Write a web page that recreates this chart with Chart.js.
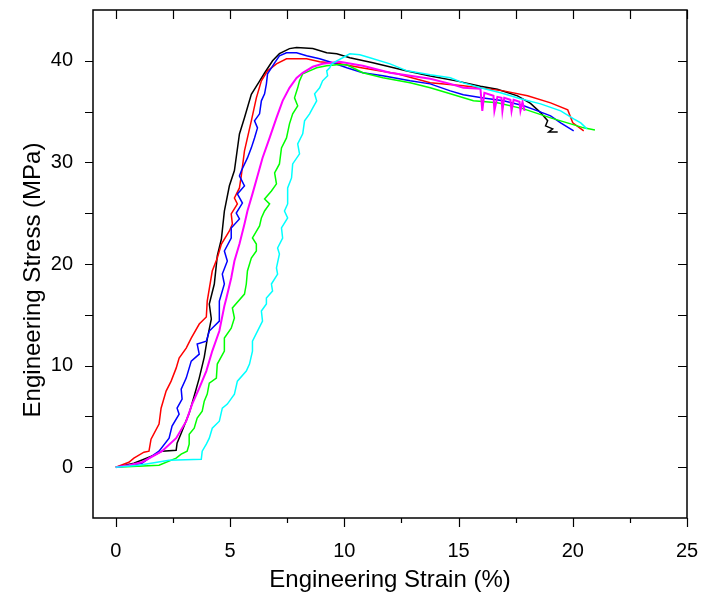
<!DOCTYPE html>
<html>
<head>
<meta charset="utf-8">
<script src="https://cdn.jsdelivr.net/npm/chart.js@4/dist/chart.umd.min.js"></script>
<style>
  body { margin: 0; background: #fff; }
  canvas { display: block; }
</style>
</head>
<body>
<canvas id="canvas" width="709" height="599"></canvas>
<script>
// axis ticks
var xTickValues = [0, 5, 10, 15, 20, 25];
var xMinorValues = [0, 2.5, 5, 7.5, 10, 12.5, 15, 17.5, 20, 22.5, 25];
var yTickValues = [0, 10, 20, 30, 40];
var yMinorValues = [0, 5, 10, 15, 20, 25, 30, 35, 40];
var yTitle = 'Engineering Stress (MPa)';

// strain (%) and stress (MPa) per specimen
var blackStrain = [0, 0.79, 1.67, 2.02, 2.64, 2.68, 2.86, 3.21, 3.43, 3.65, 3.87, 4.0, 4.18, 4.09, 4.31, 4.44, 4.62, 4.75, 4.97, 5.19, 5.41, 5.63, 5.93, 6.29, 6.51, 6.86, 7.16, 7.6, 7.91, 8.62, 9.23, 9.67, 10.24, 11.25, 12.75, 13.76, 14.95, 15.96, 16.7, 17.58, 18.15, 18.59, 18.9, 18.81, 19.12, 18.95, 19.34];
var blackStress = [0, 0.39, 1.18, 1.58, 1.67, 2.36, 3.35, 5.32, 7.0, 8.77, 10.84, 12.6, 14.6, 16.06, 18.03, 20.79, 22.46, 25.2, 27.7, 29.2, 32.8, 34.4, 36.7, 38.0, 38.8, 40.0, 40.7, 41.2, 41.3, 41.2, 40.8, 40.7, 40.3, 39.8, 39.0, 38.5, 38.0, 37.5, 37.2, 36.55, 35.8, 34.9, 34.1, 33.6, 33.3, 33.0, 33.0];

var redStrain = [0, 0.57, 0.79, 1.23, 1.45, 1.54, 1.89, 1.98, 2.2, 2.42, 2.64, 2.77, 3.08, 3.3, 3.65, 3.96, 4.0, 4.22, 4.44, 4.62, 4.97, 5.1, 5.05, 5.32, 5.19, 5.41, 5.49, 5.63, 5.93, 6.15, 6.37, 6.64, 7.03, 7.47, 8.35, 8.92, 9.8, 10.81, 12.31, 13.76, 15.21, 16.97, 18.02, 19.03, 19.78, 20.0, 20.48];
var redStress = [0, 0.49, 0.89, 1.48, 1.58, 2.76, 4.24, 5.81, 7.49, 8.47, 9.75, 10.74, 11.72, 12.71, 14.09, 14.78, 16.35, 19.31, 20.59, 21.97, 23.25, 23.94, 24.93, 25.91, 26.5, 27.49, 28.67, 31.13, 34.09, 36.35, 38.03, 39.01, 39.7, 40.2, 40.2, 39.9, 39.7, 39.3, 38.72, 37.83, 37.54, 37.04, 36.55, 35.86, 35.17, 33.9, 33.1];

var blueStrain = [0, 1.14, 1.89, 2.33, 2.46, 2.77, 2.68, 2.9, 2.86, 3.08, 3.3, 3.65, 3.56, 3.96, 4.09, 4.53, 4.53, 4.75, 4.66, 4.88, 4.75, 5.05, 5.05, 5.41, 5.27, 5.54, 5.32, 5.63, 5.41, 5.49, 5.76, 5.93, 6.07, 6.2, 6.07, 6.29, 6.37, 6.51, 6.59, 6.64, 6.81, 6.95, 7.16, 7.47, 7.91, 8.35, 8.92, 9.49, 10.11, 10.81, 11.69, 12.88, 13.76, 14.64, 15.21, 16.09, 16.97, 17.85, 18.46, 19.03, 19.47, 20.04];
var blueStress = [0, 0.39, 1.58, 2.86, 4.04, 5.22, 5.81, 6.7, 7.68, 8.77, 10.44, 11.13, 12.12, 12.41, 13.4, 14.38, 16.35, 18.03, 19.01, 20.3, 21.28, 22.56, 23.55, 24.43, 25.02, 26.0, 26.9, 27.68, 28.67, 29.16, 30.44, 31.43, 32.41, 33.4, 34.09, 34.78, 36.06, 36.75, 37.73, 38.72, 39.31, 39.8, 40.49, 40.79, 40.79, 40.49, 40.2, 39.8, 39.31, 38.82, 38.52, 38.03, 37.73, 37.04, 36.65, 36.35, 36.06, 35.57, 35.07, 34.58, 33.89, 33.1];

var magentaStrain = [0, 0.57, 1.14, 2.02, 2.64, 3.08, 3.34, 3.65, 3.96, 4.22, 4.53, 4.75, 4.84, 5.05, 5.19, 5.41, 5.63, 5.76, 5.98, 6.2, 6.42, 6.73, 7.03, 7.3, 7.6, 7.91, 8.18, 8.62, 9.05, 9.8, 10.55, 10.81, 12.0, 12.88, 13.76, 14.64, 15.21, 15.96, 16.04, 16.13, 16.53, 16.57, 16.7, 16.88, 16.92, 17.0, 17.27, 17.32, 17.41, 17.67, 17.71, 17.8, 17.89];
var magentaStress = [0, 0.2, 0.49, 1.58, 2.86, 4.53, 6.21, 7.78, 9.46, 11.43, 13.4, 15.86, 16.65, 18.62, 20.3, 21.97, 23.94, 25.22, 26.9, 28.67, 30.44, 32.41, 34.38, 36.06, 37.34, 38.32, 38.82, 39.41, 39.7, 39.9, 39.61, 39.51, 38.82, 38.52, 38.23, 37.73, 37.34, 37.24, 35.07, 36.85, 36.55, 35.07, 36.45, 36.35, 35.07, 36.35, 36.16, 35.07, 36.16, 35.96, 35.07, 35.96, 35.07];

var greenStrain = [0, 1.89, 2.64, 2.86, 3.12, 3.21, 3.21, 3.43, 3.56, 3.78, 3.87, 4.0, 4.09, 4.4, 4.44, 4.75, 4.75, 5.05, 5.19, 5.1, 5.63, 5.71, 5.76, 5.93, 6.15, 6.15, 5.98, 6.29, 6.37, 6.51, 6.73, 6.51, 6.81, 7.03, 6.95, 7.16, 7.25, 7.47, 7.6, 7.74, 7.96, 7.82, 7.96, 8.04, 8.18, 8.48, 8.79, 9.23, 9.67, 10.11, 10.81, 11.69, 12.88, 13.76, 14.64, 15.65, 16.7, 17.85, 19.03, 19.91, 20.48, 20.97];
var greenStress = [0, 0.2, 0.89, 1.28, 1.58, 2.27, 3.25, 3.84, 4.83, 5.52, 6.5, 7.19, 8.28, 8.77, 10.15, 11.43, 12.71, 13.69, 14.68, 15.67, 17.04, 18.03, 19.31, 20.59, 21.28, 21.97, 22.56, 23.74, 24.53, 25.22, 25.91, 26.4, 27.19, 27.88, 28.97, 29.85, 31.43, 32.41, 33.79, 34.78, 35.57, 36.35, 37.34, 38.03, 38.72, 39.01, 39.31, 39.51, 39.61, 39.61, 38.82, 38.33, 37.83, 37.34, 36.75, 36.06, 35.86, 35.27, 34.38, 33.79, 33.4, 33.2];

var cyanStrain = [0, 1.01, 2.33, 3.74, 3.78, 3.96, 4.09, 4.22, 4.53, 4.66, 4.88, 5.19, 5.32, 5.71, 5.85, 5.98, 5.98, 6.2, 6.42, 6.37, 6.59, 6.59, 6.86, 6.81, 7.08, 7.03, 7.16, 7.08, 7.3, 7.25, 7.52, 7.38, 7.52, 7.52, 7.69, 7.74, 8.04, 7.96, 8.18, 8.26, 8.48, 8.62, 8.79, 8.7, 8.92, 9.05, 9.27, 9.23, 9.36, 9.45, 9.67, 9.93, 10.24, 10.68, 11.12, 12.0, 12.75, 13.76, 14.64, 15.21, 15.96, 16.84, 17.71, 18.59, 19.47, 20.04, 20.35, 20.62];
var cyanStress = [0, 0.2, 0.69, 0.79, 1.58, 2.27, 2.86, 3.84, 4.53, 5.81, 6.21, 7.19, 8.47, 9.46, 10.15, 11.43, 12.41, 13.4, 14.38, 15.37, 16.06, 16.65, 17.34, 18.03, 19.01, 19.61, 20.99, 21.58, 22.56, 23.55, 24.53, 25.22, 25.91, 27.49, 28.47, 29.85, 30.84, 31.82, 32.81, 34.09, 34.78, 35.37, 36.06, 36.75, 37.34, 38.03, 38.52, 39.01, 39.31, 39.7, 40.0, 40.3, 40.69, 40.59, 40.3, 39.7, 39.01, 38.62, 38.33, 37.83, 37.34, 36.85, 36.26, 35.76, 35.07, 34.29, 33.89, 33.3];

function pts(xs, ys) {
    var out = [];
    for (var i = 0; i < xs.length; i++) out.push({x: xs[i], y: ys[i]});
    return out;
}

function series(xs, ys, color, width, order) {
    return {
        data: pts(xs, ys),
        borderColor: color,
        borderWidth: width,
        pointRadius: 0,
        tension: 0,
        fill: false,
        order: order
    };
}

// box with ticks on all four sides (inner ticks on top and right)
var frame = {
    id: 'frame',
    afterDraw: function(chart) {
        var ctx = chart.ctx, a = chart.chartArea;
        var xs = chart.scales.x, ys = chart.scales.y;
        ctx.save();
        ctx.strokeStyle = '#000';
        ctx.lineWidth = 1.5;
        ctx.strokeRect(a.left, a.top, a.right - a.left, a.bottom - a.top);
        ctx.lineWidth = 1.2;
        ctx.beginPath();
        xMinorValues.forEach(function(v) {
            var p = Math.round(xs.getPixelForValue(v)) + 0.5;
            var len = xTickValues.indexOf(v) >= 0 ? 9 : 5;
            ctx.moveTo(p, a.bottom); ctx.lineTo(p, a.bottom + len);
            ctx.moveTo(p, a.top); ctx.lineTo(p, a.top + 9);
        });
        yMinorValues.forEach(function(v) {
            var p = Math.round(ys.getPixelForValue(v)) + 0.5;
            ctx.moveTo(a.left, p); ctx.lineTo(a.left - 8, p);
            ctx.moveTo(a.right, p); ctx.lineTo(a.right - 9, p);
        });
        ctx.stroke();

        // y title sits a bit below the middle of the axis in the original
        ctx.translate(33, (a.top + a.bottom) / 2 + 16);
        ctx.rotate(-Math.PI / 2);
        ctx.fillStyle = '#000';
        ctx.font = '24px "Liberation Sans", Arial, sans-serif';
        ctx.textAlign = 'center';
        ctx.textBaseline = 'middle';
        ctx.fillText(yTitle, 0, 0);
        ctx.restore();
    }
};

var ctx = document.getElementById('canvas');
var chart = new Chart(ctx, {
    type: 'line',
    data: {
        datasets: [
            series(blackStrain, blackStress, '#000000', 1.5, 6),
            series(redStrain, redStress, '#ff0000', 1.5, 5),
            series(blueStrain, blueStress, '#0000ff', 1.5, 4),
            series(greenStrain, greenStress, '#00ff00', 1.5, 3),
            series(magentaStrain, magentaStress, '#ff00ff', 2, 2),
            series(cyanStrain, cyanStress, '#00ffff', 1.5, 1)
        ]
    },
    options: {
        responsive: false,
        animation: false,
        layout: { padding: { top: 10, right: 22, left: 0, bottom: 0 } },
        plugins: { legend: { display: false }, tooltip: { enabled: false } },
        scales: {
            x: {
                type: 'linear',
                min: -1,
                max: 25,
                grid: { display: false },
                border: { display: false },
                afterBuildTicks: function(s) { s.ticks = xTickValues.map(function(v) { return {value: v}; }); },
                afterFit: function(s) { s.height = 81; s.paddingLeft = 0; s.paddingRight = 0; },
                ticks: {
                    autoSkip: false,
                    maxRotation: 0,
                    padding: 13,
                    color: '#000',
                    font: { family: 'Liberation Sans, Arial, sans-serif', size: 20 }
                },
                title: {
                    display: true,
                    text: 'Engineering Strain (%)',
                    color: '#000',
                    padding: { bottom: 4 },
                    font: { family: 'Liberation Sans, Arial, sans-serif', size: 24 }
                }
            },
            y: {
                type: 'linear',
                min: -5,
                max: 45,
                grid: { display: false },
                border: { display: false },
                afterBuildTicks: function(s) { s.ticks = yTickValues.map(function(v) { return {value: v}; }); },
                afterFit: function(s) { s.width = 93; s.paddingTop = 0; s.paddingBottom = 0; },
                ticks: {
                    autoSkip: false,
                    padding: 12,
                    color: '#000',
                    font: { family: 'Liberation Sans, Arial, sans-serif', size: 20 }
                }
            }
        }
    },
    plugins: [frame]
});
</script>
</body>
</html>
